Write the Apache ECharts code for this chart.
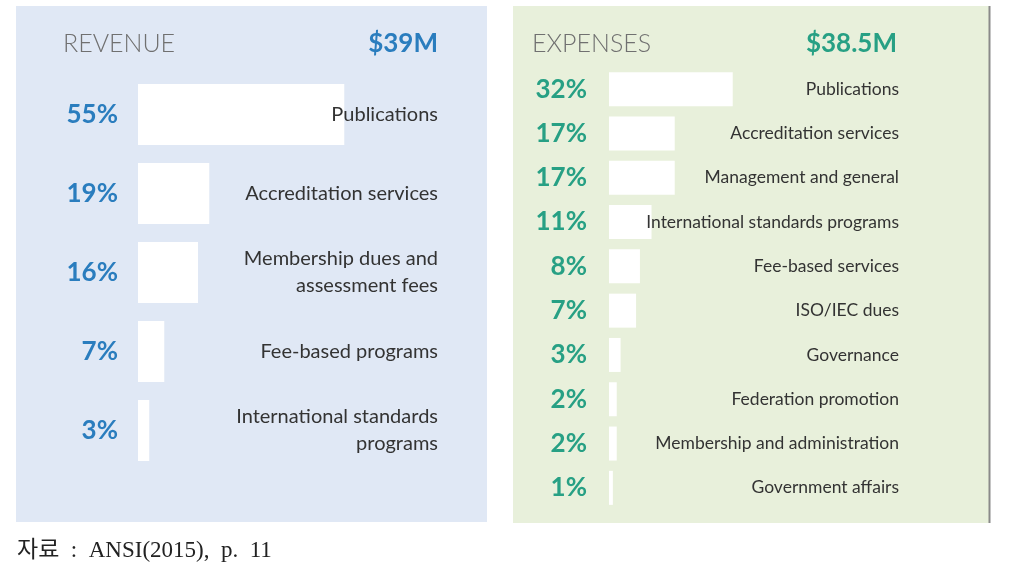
<!DOCTYPE html>
<html><head><meta charset="utf-8">
<script src="https://cdn.jsdelivr.net/npm/echarts@6/dist/echarts.min.js"></script>
<style>html,body{margin:0;padding:0;background:#fff}#c{width:1015px;height:582px}</style>
</head><body><div id="c"></div>
<script>
const revenueCategories = ['Publications','Accreditation services','Membership dues and\nassessment fees','Fee-based programs','International standards\nprograms'];
const revenueValues = [55,19,16,7,3];
const expenseCategories = ['Publications','Accreditation services','Management and general','International standards programs','Fee-based services','ISO/IEC dues','Governance','Federation promotion','Membership and administration','Government affairs'];
const expenseValues = [32,17,17,11,8,7,3,2,2,1];
const revenueTotal = '$39M';
const expenseTotal = '$38.5M';
const sourceNote = '자료  :  ANSI(2015),  p.  11';

const blue = '#2A7DBE', teal = '#27A084';
const chart = echarts.init(document.getElementById('c'));
chart.setOption({
  animation:false,
  graphic:[
    {type:'rect',z:-10,shape:{x:16,y:6,width:471,height:516},style:{fill:'#E0E8F5'}},
    {type:'rect',z:-10,shape:{x:513,y:6,width:476,height:517},style:{fill:'#E8F0DB'}},
    {type:'line',z:-9,shape:{x1:989.5,y1:6,x2:989.5,y2:523},style:{stroke:'#8a8a8a',lineWidth:2}},
    {type:'text',left:63,top:31,style:{text:'REVENUE',font:'300 25px Lato',fill:'#707070'}},
    {type:'text',right:1015-438,top:31,style:{text:revenueTotal,font:'bold 26px Lato',fill:blue,align:'right'}},
    {type:'text',left:532,top:31,style:{text:'EXPENSES',font:'300 25px Lato',fill:'#707070'}},
    {type:'text',right:1015-897,top:31,style:{text:expenseTotal,font:'bold 26px Lato',fill:teal,align:'right'}},
    {type:'text',left:17,top:539,style:{text:sourceNote,font:'23px "Liberation Serif", "Noto Sans CJK KR"',fill:'#222'}}
  ],
  grid:[
    {left:138,width:300,top:75,height:395},
    {left:609,width:290,top:67,height:443}
  ],
  xAxis:[
    {gridIndex:0,type:'value',min:0,max:80,show:false},
    {gridIndex:1,type:'value',min:0,max:75,show:false}
  ],
  yAxis:[
    {gridIndex:0,type:'category',inverse:true,data:revenueCategories,position:'right',z:5,
     axisLine:{show:false},axisTick:{show:false},splitLine:{show:false},
     axisLabel:{inside:true,margin:0,fontFamily:'Lato',fontSize:20,color:'#333',lineHeight:27,align:'right'}},
    {gridIndex:1,type:'category',inverse:true,data:expenseCategories,position:'right',z:5,
     axisLine:{show:false},axisTick:{show:false},splitLine:{show:false},
     axisLabel:{inside:true,margin:0,fontFamily:'Lato',fontSize:17.5,color:'#333',align:'right'}}
  ],
  series:[
    {type:'bar',xAxisIndex:0,yAxisIndex:0,data:revenueValues,barWidth:61,itemStyle:{color:'#fff'},
     label:{show:true,position:'left',distance:20,formatter:'{c}%',fontFamily:'Lato',fontWeight:'bold',fontSize:26,color:blue}},
    {type:'bar',xAxisIndex:1,yAxisIndex:1,data:expenseValues,barWidth:34,itemStyle:{color:'#fff'},
     label:{show:true,position:'left',distance:22,formatter:'{c}%',fontFamily:'Lato',fontWeight:'bold',fontSize:26,color:teal}}
  ]
});
</script></body></html>
